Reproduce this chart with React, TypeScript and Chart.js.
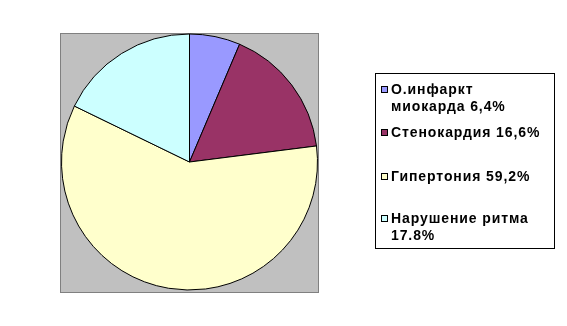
import React, { useEffect, useRef } from "react";
import { Chart, registerables } from "chart.js";

Chart.register(...registerables);

const categories = ["О.инфаркт миокарда", "Стенокардия", "Гипертония", "Нарушение ритма"];
const values = [6.4, 16.6, 59.2, 17.8];
const legendLines = [
  ["О.инфаркт", "миокарда 6,4%"],
  ["Стенокардия 16,6%"],
  ["Гипертония 59,2%"],
  ["Нарушение ритма", "17.8%"],
];
const colors = ["#9999FF", "#993366", "#FFFFCC", "#CCFFFF"];

const FONT = 'bold 14px "Liberation Sans", Arial, sans-serif';

const backgroundPlugin = {
  id: "plotBackground",
  beforeDraw(chart: any) {
    const ctx = chart.ctx;
    ctx.save();
    ctx.fillStyle = "#FFFFFF";
    ctx.fillRect(0, 0, chart.width, chart.height);
    ctx.fillStyle = "#C0C0C0";
    ctx.fillRect(60, 33, 259, 260);
    ctx.strokeStyle = "#808080";
    ctx.lineWidth = 1;
    ctx.strokeRect(60.5, 33.5, 258, 259);
    ctx.restore();
  },
};

const legendPlugin = {
  id: "boxLegend",
  afterDraw(chart: any) {
    const ctx = chart.ctx;
    const baselines = [94, 137, 181, 223];
    const lineGap = 17;
    ctx.save();
    ctx.fillStyle = "#FFFFFF";
    ctx.fillRect(375, 73, 180, 176);
    ctx.strokeStyle = "#000000";
    ctx.lineWidth = 1;
    ctx.strokeRect(375.5, 73.5, 179, 175);
    ctx.font = FONT;
    (ctx as any).letterSpacing = "0.9px";
    ctx.textBaseline = "alphabetic";
    ctx.textAlign = "left";
    const bg = chart.data.datasets[0].backgroundColor as string[];
    legendLines.forEach((lines, i) => {
      const b = baselines[i];
      ctx.fillStyle = bg[i];
      ctx.fillRect(381, b - 8, 7, 7);
      ctx.strokeStyle = "#000000";
      ctx.strokeRect(381.5, b - 7.5, 6, 6);
      ctx.fillStyle = "#000000";
      lines.forEach((t, j) => {
        ctx.fillText(t, 391, b + j * lineGap);
      });
    });
    ctx.restore();
  },
};

export default function App() {
  const ref = useRef<HTMLCanvasElement | null>(null);
  useEffect(() => {
    if (!ref.current) return;
    const chart = new Chart(ref.current, {
      type: "pie",
      data: {
        labels: categories,
        datasets: [
          {
            data: values,
            backgroundColor: colors,
            borderColor: "#000000",
            borderWidth: 1,
          },
        ],
      },
      options: {
        responsive: false,
        animation: false,
        events: [],
        layout: { padding: { left: 61, right: 249, top: 33, bottom: 35 } },
        plugins: {
          legend: { display: false },
          tooltip: { enabled: false },
          title: { display: false },
        },
      },
      plugins: [backgroundPlugin, legendPlugin],
    });
    return () => chart.destroy();
  }, []);
  return (
    <div style={{ position: "fixed", left: 0, top: 0, width: 567, height: 326, background: "#fff" }}>
      <canvas ref={ref} width={567} height={326} style={{ display: "block" }} />
    </div>
  );
}
